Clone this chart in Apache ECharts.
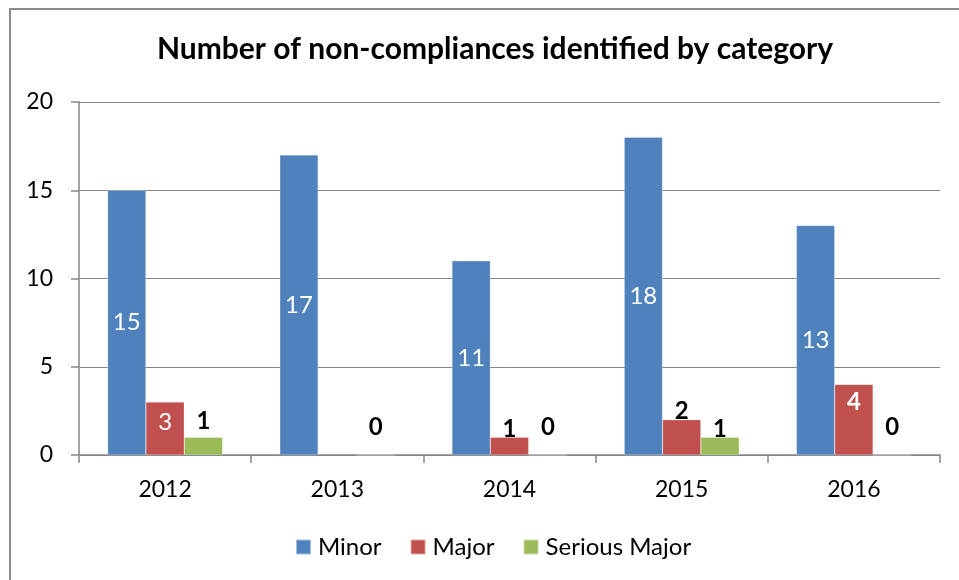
<!DOCTYPE html>
<html>
<head>
<meta charset="utf-8">
<title>Number of non-compliances identified by category</title>
<script src="https://cdn.jsdelivr.net/npm/echarts@6/dist/echarts.min.js"></script>
<style>
  html, body { margin: 0; padding: 0; background: #fff; }
  #chart { width: 959px; height: 580px; }
</style>
</head>
<body>
<div id="chart"></div>
<script>
// Chart data
const years = ['2012', '2013', '2014', '2015', '2016'];
const minor = [15, 17, 11, 18, 13];
const major = [3, null, 1, 2, 4];
const seriousMajor = [1, 0, 0, 1, 0];
const seriesNames = ['Minor', 'Major', 'Serious Major'];
const yTicks = { min: 0, max: 20, step: 5 };

const FONT = 'Lato, "Open Sans", sans-serif';
const colors = ['#4F81BD', '#C0504D', '#9BBB59'];
const LABEL_SIZE = 24;

// Label presets for the data labels
const labelKinds = {
  innerWhiteHigh: { show: true, position: 'inside', color: '#fff', fontWeight: 'normal', offset: [0, -6] },
  topWhiteBold: { show: true, position: 'insideTop', distance: 6, color: '#fff', fontWeight: 'bold' },
  aboveBold: { show: true, position: 'top', distance: 4, color: '#000', fontWeight: 'bold' },
  aboveBoldNear: { show: true, position: 'top', distance: -4, color: '#000', fontWeight: 'bold' },
  aboveBoldFar: { show: true, position: 'top', distance: 15, color: '#000', fontWeight: 'bold' }
};
const majorLabels = ['innerWhiteHigh', null, 'aboveBoldNear', 'aboveBoldNear', 'topWhiteBold'];
const seriousLabels = ['aboveBold', 'aboveBoldFar', 'aboveBoldFar', 'aboveBoldNear', 'aboveBoldFar'];

function items(values, kinds) {
  return values.map((v, i) => {
    const k = kinds[i];
    return k ? { value: v, label: labelKinds[k] } : { value: v, label: { show: false } };
  });
}

const chart = echarts.init(document.getElementById('chart'), null, { renderer: 'canvas' });

const axisGray = '#868686';
const barBorder = { borderColor: 'rgba(255,255,255,0.5)', borderWidth: 0.5 };

chart.setOption({
  animation: false,
  textStyle: { fontFamily: FONT },
  title: {
    text: 'Number of non-compliances identified by category',
    left: 490,
    top: 29,
    textAlign: 'center',
    textStyle: { fontFamily: FONT, fontSize: 30, fontWeight: 'bold', color: '#000' }
  },
  legend: {
    data: seriesNames,
    left: 290,
    top: 530,
    icon: 'rect',
    itemWidth: 15,
    itemHeight: 15,
    itemGap: 28,
    textStyle: { fontFamily: FONT, fontSize: 24, color: '#000', padding: [0, 0, 0, 2] }
  },
  grid: { left: 79, right: 19, top: 102, bottom: 125, containLabel: false },
  xAxis: {
    type: 'category',
    data: years,
    axisLine: { show: true, lineStyle: { color: axisGray, width: 1.5 } },
    axisTick: { show: true, alignWithLabel: false, length: 8, lineStyle: { color: axisGray, width: 1.5 } },
    axisLabel: { fontFamily: FONT, fontSize: 23, color: '#000', margin: 23 }
  },
  yAxis: {
    type: 'value',
    min: yTicks.min,
    max: yTicks.max,
    interval: yTicks.step,
    axisLine: { show: true, lineStyle: { color: axisGray, width: 1.5 } },
    axisTick: { show: true, inside: false, length: 8, lineStyle: { color: axisGray, width: 1.5 } },
    splitLine: { show: true, lineStyle: { color: axisGray, width: 1 } },
    axisLabel: { fontFamily: FONT, fontSize: 23, color: '#000', margin: 26 }
  },
  series: [
    {
      name: seriesNames[0],
      type: 'bar',
      barGap: '0%',
      barCategoryGap: '33.2%',
      itemStyle: Object.assign({ color: colors[0] }, barBorder),
      label: { show: true, position: 'inside', color: '#fff', fontSize: LABEL_SIZE, fontFamily: FONT },
      data: minor
    },
    {
      name: seriesNames[1],
      type: 'bar',
      barGap: '0%',
      barCategoryGap: '33.2%',
      itemStyle: Object.assign({ color: colors[1] }, barBorder),
      label: { fontSize: LABEL_SIZE, fontFamily: FONT },
      data: items(major, majorLabels)
    },
    {
      name: seriesNames[2],
      type: 'bar',
      barGap: '0%',
      barCategoryGap: '33.2%',
      itemStyle: Object.assign({ color: colors[2] }, barBorder),
      label: { fontSize: LABEL_SIZE, fontFamily: FONT },
      data: items(seriousMajor, seriousLabels)
    }
  ],
  graphic: [
    {
      type: 'rect',
      silent: true,
      shape: { x: 10, y: 9, width: 1000, height: 700 },
      style: { fill: 'none', stroke: '#8c8c8c', lineWidth: 2 }
    }
  ]
});
</script>
</body>
</html>
